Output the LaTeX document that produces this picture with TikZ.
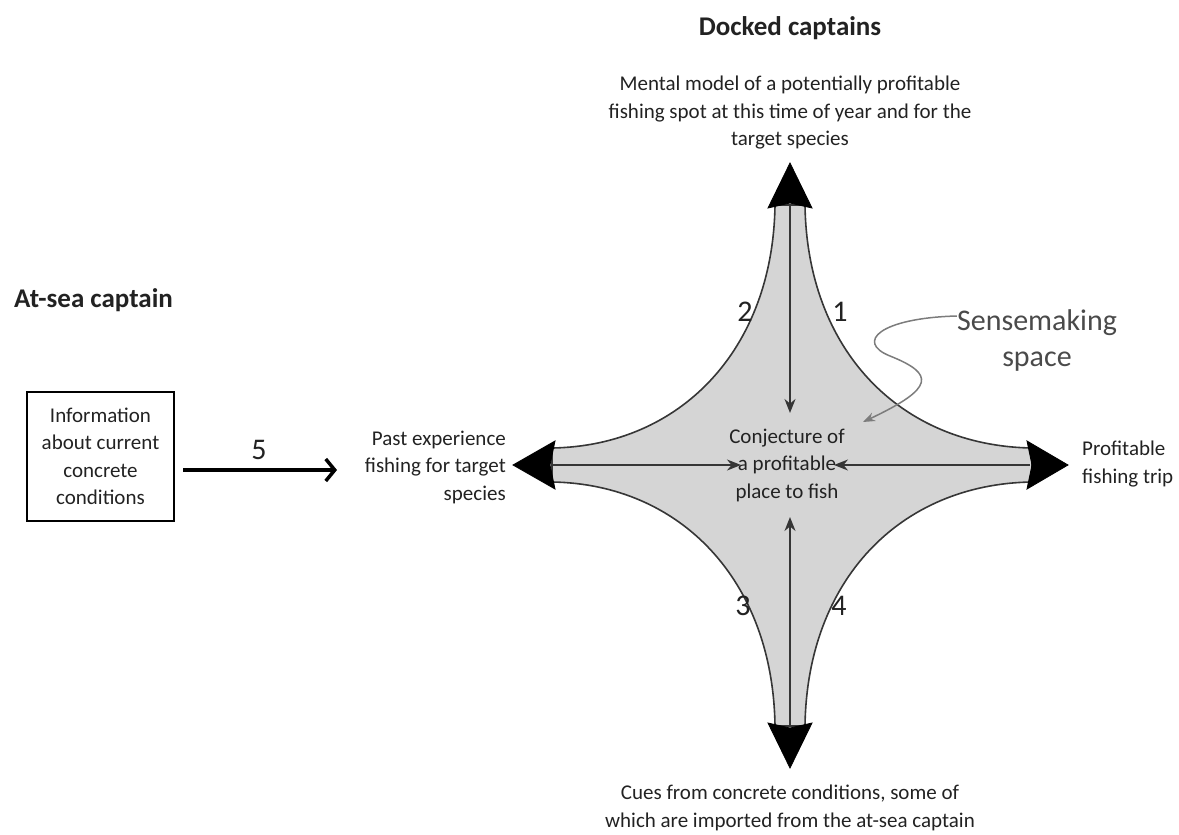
\documentclass[tikz,border=0pt]{standalone}
\usepackage{fontspec}
\setmainfont{Carlito}
\usetikzlibrary{arrows.meta}
\definecolor{ink}{HTML}{222222}
\definecolor{fillgray}{HTML}{D5D5D5}
\definecolor{edgegray}{HTML}{363636}
\definecolor{pointer}{HTML}{7C7C7C}
\definecolor{softink}{HTML}{4A4A4A}

\begin{document}
\begin{tikzpicture}[x=1pt,y=-1pt,
  title/.style={font=\bfseries\fontsize{27}{30}\selectfont, text=ink, inner sep=0},
  body/.style={font=\fontsize{21}{27.5}\selectfont, text=ink, inner sep=0, align=center},
  numlabel/.style={font=\fontsize{30}{32}\selectfont, text=ink, inner sep=0},
  headtri/.style={fill=black, draw=black, line width=0.8pt, line join=miter},
  axisline/.style={draw=edgegray, line width=1.7pt, -{Stealth[length=14pt,width=11pt]}},
]
\useasboundingbox (0,0) rectangle (1179,835);

% sensemaking space: four concave arms around the centre
\filldraw[fill=fillgray, draw=edgegray, line width=1.6pt]
  (805,205) .. controls (807,350) and (900,446) .. (1032,448)
  -- (1032,482) .. controls (900,484) and (807,580) .. (805,726)
  -- (775,726) .. controls (773,580) and (680,484) .. (552,482)
  -- (552,448) .. controls (680,446) and (773,350) .. (775,205) -- cycle;

% arm ends
\coordinate (armT) at (790,205);
\coordinate (armB) at (790,726);
\coordinate (armL) at (552,465);
\coordinate (armR) at (1030,465);
% inner arrow tips around the conjecture
\coordinate (inT) at (790,413);
\coordinate (inB) at (790,517);
\coordinate (inL) at (741,465);
\coordinate (inR) at (834,465);

\draw[axisline] (armT) -- (inT);
\draw[axisline] (armB) -- (inB);
\draw[axisline] (armL) -- (inL);
\draw[axisline] (armR) -- (inR);

% large arrowheads at the arm ends
\filldraw[headtri] (790,163) -- (812,208) -- (790,203) -- (768,208) -- cycle;
\filldraw[headtri] (790,768) -- (812,723) -- (790,728) -- (768,723) -- cycle;
\filldraw[headtri] (513,465) -- (555,441) -- (550,465) -- (555,489) -- cycle;
\filldraw[headtri] (1068,465) -- (1027,441) -- (1032,465) -- (1027,489) -- cycle;

% texts
\node[title] (docked) at (790,28) {Docked captains};
\node[body] (mental) at (790,113) {Mental model of a potentially profitable\\fishing spot at this time of year and for the\\target species};
\node[title, anchor=west] (atsea) at (14,300) {At-sea captain};
\node[body, draw=black, line width=1.4pt, minimum width=147pt, minimum height=129pt] (info) at (100.5,456.5) {Information\\about current\\concrete\\conditions};
\node[body, align=right, anchor=east] (past) at (506,467) {Past experience\\fishing for target\\species};
\node[body, align=left, anchor=west] (trip) at (1082,464) {Profitable\\fishing trip};
\node[body] (cues) at (790,808) {Cues from concrete conditions, some of\\which are imported from the at-sea captain};
\node[body] (conj) at (787,465) {Conjecture of\\a profitable\\place to fish};
\node[font=\fontsize{30}{36}\selectfont, text=softink, align=center, inner sep=0] (sense) at (1037,340) {Sensemaking\\space};

% numbers on the arms
\node[numlabel] (n1) at (840,312) {1};
\node[numlabel] (n2) at (745,312) {2};
\node[numlabel] (n3) at (743,606) {3};
\node[numlabel] (n4) at (839,606) {4};
\node[numlabel] (n5) at (259,450) {5};

% flow from the at-sea captain
\coordinate (infoOut) at (183,470);
\coordinate (pastIn) at (337,470);
\draw[line width=4pt, -{Straight Barb[length=9pt,width=22pt,line width=3.5pt]}] (infoOut) -- (pastIn);

% pointer into the sensemaking space
\coordinate (pointerEnd) at (863,422);
\draw[pointer, line width=1.5pt, -{Stealth[length=12pt,width=9pt]}]
  (sense.west |- 0,316) .. controls (880,318) and (855,342) .. (890,356)
  .. controls (935,374) and (935,388) .. (pointerEnd);

\end{tikzpicture}
\end{document}
